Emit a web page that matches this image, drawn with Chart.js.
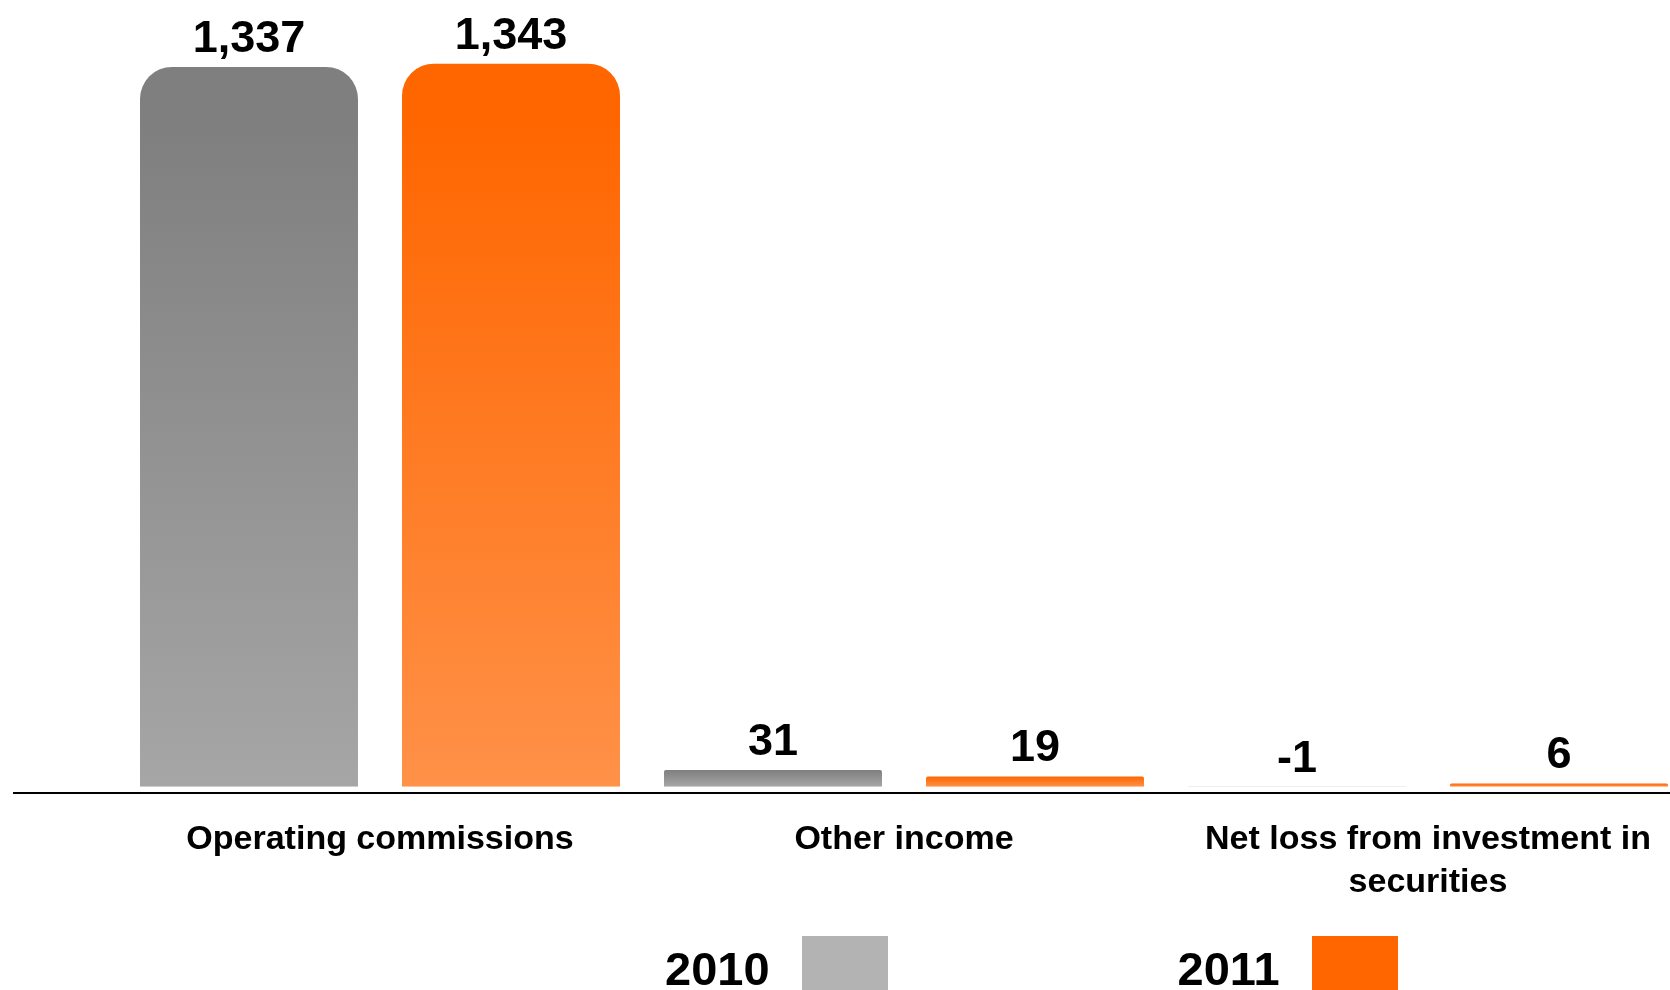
<!DOCTYPE html>
<html>
<head>
<meta charset="utf-8">
<title>Revenue breakdown 2010 vs 2011</title>
<script src="https://cdn.jsdelivr.net/npm/chart.js@4.4.1/dist/chart.umd.min.js"></script>
<style>
    html, body { margin: 0; padding: 0; background: #fff; overflow: hidden; }
    #wrap { position: relative; width: 1670px; height: 990px; overflow: hidden; }
    #box { position: absolute; left: 0; top: 0; width: 1700px; height: 990px; }
    #legend {
        position: absolute; left: 665px; top: 936px; display: flex;
        font: bold 47px 'Liberation Sans', Arial, sans-serif; color: #000;
    }
    .legend-item { display: flex; align-items: flex-start; margin-right: 290px; }
    .legend-item span { line-height: 47px; margin-top: 9px; }
    .legend-item i { display: block; width: 86px; height: 86px; margin-left: 32px; }
</style>
</head>
<body>
<div id="wrap">
    <div id="box"><canvas id="chart"></canvas></div>
    <div id="legend"></div>
</div>
<script>
// values in millions
const categories = ['Operating commissions', 'Other income', ['Net loss from investment in', 'securities']];
const years = ['2010', '2011'];
const values2010 = [1337, 31, -1];
const values2011 = [1343, 19, 6];

const grayStops = ['#7f7f7f', '#a6a6a6'];
const orangeStops = ['#ff6600', '#ff9148'];
const swatchColors = ['#b3b3b3', '#ff6600'];

const FONT = "'Liberation Sans', Arial, sans-serif";
Chart.defaults.font.family = FONT;
Chart.defaults.color = '#000';

// each bar gets its own top-to-bottom gradient
function barGradient(stops) {
    return (ctx) => {
        const chart = ctx.chart;
        if (!chart.chartArea || ctx.type !== 'data') return stops[0];
        const y = chart.scales.y;
        const top = y.getPixelForValue(Math.max(ctx.raw, 0));
        const base = y.getPixelForValue(Math.min(ctx.raw, 0));
        if (base - top < 1) return stops[1];
        const g = chart.ctx.createLinearGradient(0, top, 0, base);
        g.addColorStop(0, stops[0]);
        if (base - top > 200) g.addColorStop(0.08, stops[0]);
        g.addColorStop(1, stops[1]);
        return g;
    };
}

const barRadius = (ctx) => Math.abs(ctx.raw) > 100
    ? { topLeft: 32, topRight: 32 }
    : { topLeft: 2, topRight: 2 };

// value printed above each bar (above the zero line for negatives)
const valueLabels = {
    id: 'valueLabels',
    afterDatasetsDraw(chart) {
        const { ctx } = chart;
        ctx.save();
        ctx.font = `bold 45px ${FONT}`;
        ctx.fillStyle = '#000';
        ctx.textAlign = 'center';
        ctx.textBaseline = 'alphabetic';
        chart.data.datasets.forEach((ds, i) => {
            chart.getDatasetMeta(i).data.forEach((bar, j) => {
                const top = Math.min(bar.y, bar.base);
                ctx.fillText(ds.data[j].toLocaleString('en-US'), bar.x, top - 15);
            });
        });
        ctx.restore();
    }
};

// baseline rule running the full width just under the bars
const baseRule = {
    id: 'baseRule',
    afterDatasetsDraw(chart) {
        const { ctx } = chart;
        const y = Math.round(chart.scales.y.getPixelForValue(0)) + 6;
        ctx.save();
        ctx.strokeStyle = '#000';
        ctx.lineWidth = 2;
        ctx.beginPath();
        ctx.moveTo(13, y);
        ctx.lineTo(chart.width, y);
        ctx.stroke();
        ctx.restore();
    }
};

const chart = new Chart(document.getElementById('chart'), {
    type: 'bar',
    data: {
        labels: categories,
        datasets: [
            { label: years[0], data: values2010, backgroundColor: barGradient(grayStops), borderRadius: barRadius, borderSkipped: 'start' },
            { label: years[1], data: values2011, backgroundColor: barGradient(orangeStops), borderRadius: barRadius, borderSkipped: 'start' }
        ]
    },
    options: {
        responsive: true,
        maintainAspectRatio: false,
        animation: false,
        datasets: { bar: { categoryPercentage: 1, barPercentage: 0.832 } },
        layout: { padding: { top: 33, left: 118, right: 10, bottom: 55 } },
        scales: {
            x: {
                grid: { display: false, drawTicks: false },
                border: { display: false },
                ticks: {
                    padding: 31,
                    maxRotation: 0,
                    autoSkip: false,
                    font: { size: 34, weight: 'bold', lineHeight: 1.27 }
                }
            },
            y: { display: false, min: 0, max: 1400 }
        },
        plugins: {
            legend: { display: false },
            tooltip: { enabled: false }
        }
    },
    plugins: [valueLabels, baseRule]
});

// legend: year text followed by its colour swatch
const legendEl = document.getElementById('legend');
chart.data.datasets.forEach((ds, i) => {
    const item = document.createElement('div');
    item.classList.add('legend-item');
    item.innerHTML = `<span>${ds.label}</span><i style="background:${swatchColors[i]}"></i>`;
    legendEl.appendChild(item);
});
</script>
</body>
</html>
